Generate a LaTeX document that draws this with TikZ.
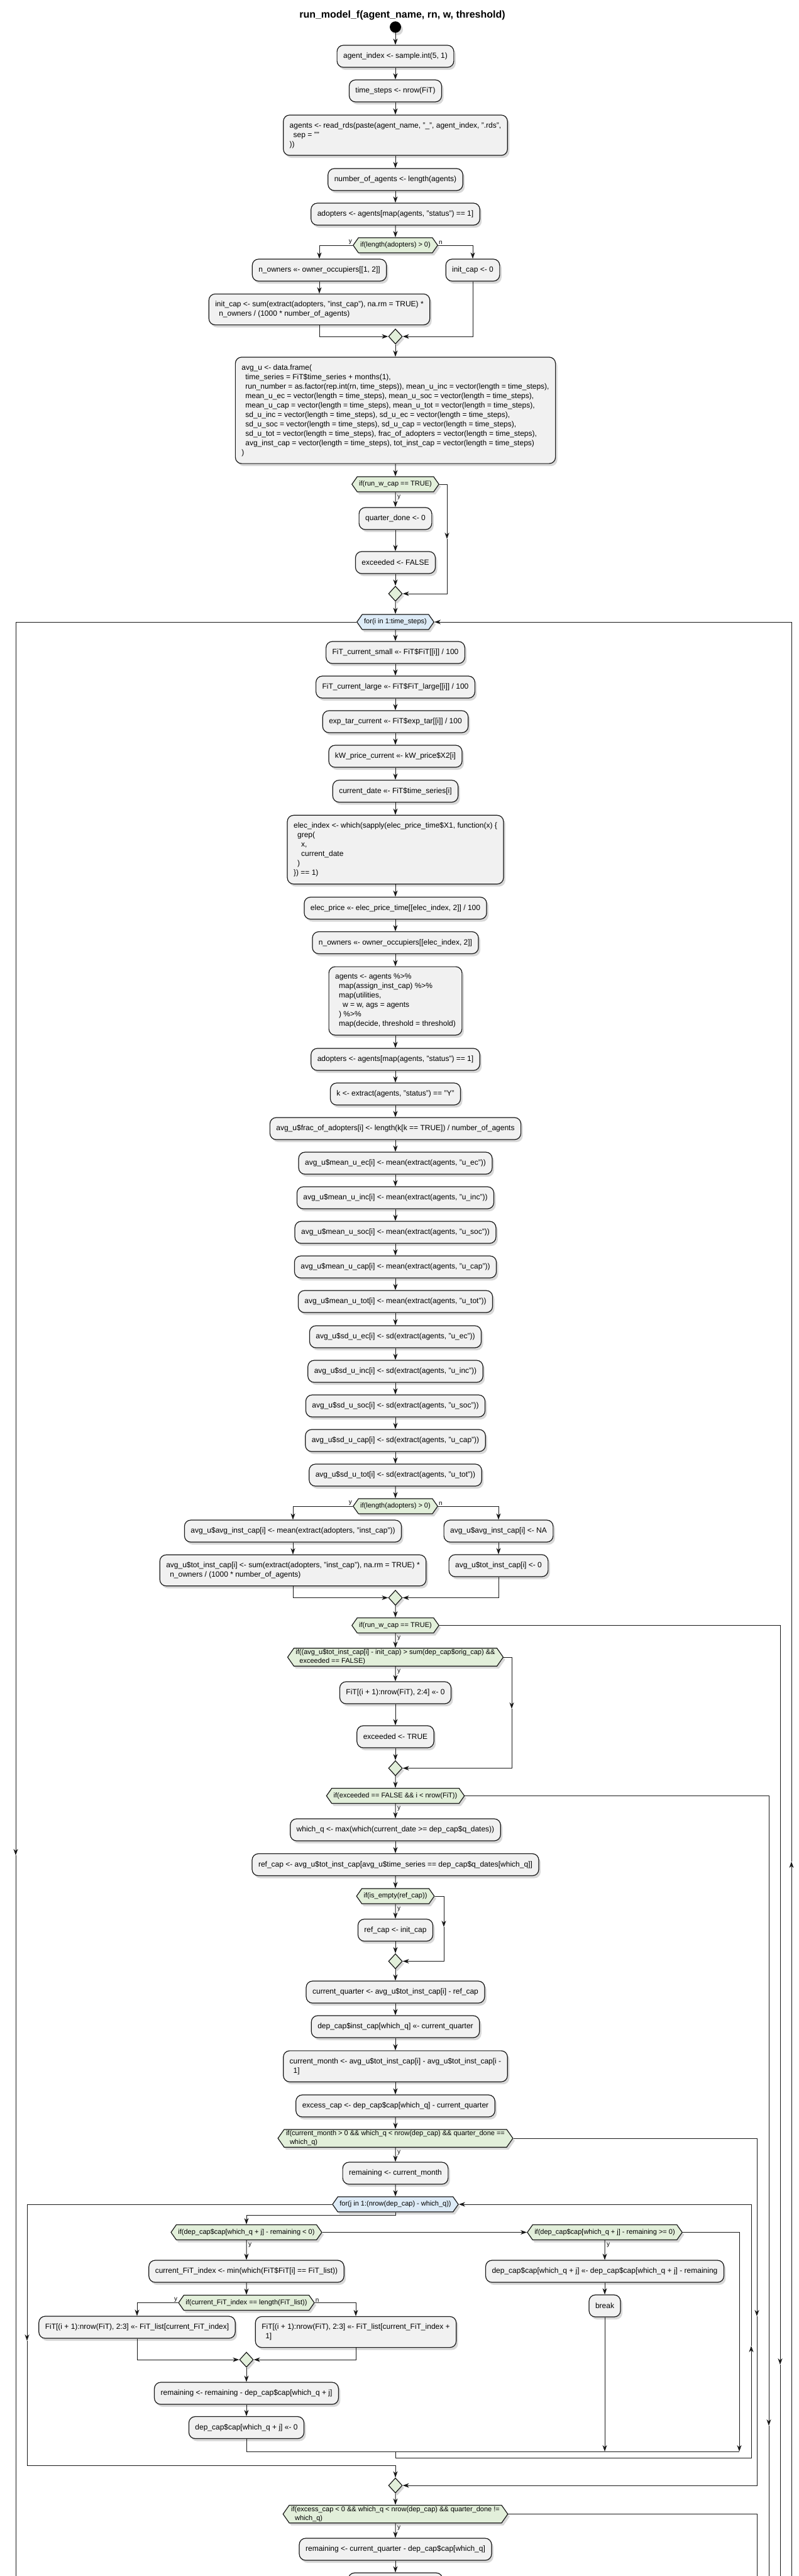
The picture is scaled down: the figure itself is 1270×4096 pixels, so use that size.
\documentclass[tikz,border=0pt]{standalone}
\usepackage{fontspec}
\setmainfont{Liberation Sans}
\usepackage{tikz}
\usetikzlibrary{positioning, shapes.geometric, shapes.symbols, arrows.meta, shadows}
\definecolor{actfill}{HTML}{F1F1F1}
\definecolor{actline}{HTML}{181818}
\definecolor{iffill}{HTML}{E2EFDA}
\definecolor{forfill}{HTML}{DDEBF7}

\begin{document}
\begin{tikzpicture}[
  x=1pt, y=-1pt,
  font=\fontsize{12}{15}\selectfont,
  shade/.style={drop shadow={shadow xshift=3pt, shadow yshift=-4pt, opacity=0.3}},
  act/.style={draw=actline, line width=1.2pt, fill=actfill, rounded corners=10pt,
    align=left, inner xsep=10pt, inner ysep=11.5pt, minimum height=35pt, shade},
  ifhex/.style={signal, signal to=east and west, signal pointer angle=110,
    draw=actline, line width=1.2pt, fill=iffill, align=left,
    font=\fontsize{11}{14}\selectfont, inner xsep=3pt, inner ysep=2pt,
    minimum height=24pt, shade},
  forhex/.style={ifhex, fill=forfill},
  mrg/.style={diamond, draw=actline, line width=1.2pt, fill=iffill,
    minimum width=22pt, minimum height=24pt, inner sep=0pt, shade},
  flow/.style={-{Stealth[length=10pt, width=7pt, inset=3pt]}, line width=1pt, color=actline},
  wire/.style={line width=1pt, color=actline},
  lbl/.style={font=\fontsize{10}{12}\selectfont, inner sep=1pt}]
\useasboundingbox (0,0) rectangle (1270,4096);
\clip (0,0) rectangle (1270,4096);
\fill[white] (0,0) rectangle (1270,4096);

\node[font=\fontsize{16}{20}\selectfont\bfseries] (title) at (640,24) {run\_model\_f(agent\_name, rn, w, threshold)};
\node[circle, fill=black, minimum size=18pt, inner sep=0pt, shade] (start) at (629,43) {};

% set-up before the time loop
\node[act] (idx) at (629,89.5) {agent\_index <- sample.int(5, 1)};
\node[act] (steps) at (629,144.5) {time\_steps <- nrow(FiT)};
\node[act] (readag) at (629,215) {agents <- read\_rds(paste(agent\_name, "\_", agent\_index, ".rds",\\\hspace*{6pt}sep = ""\\))};
\node[act] (nagents) at (629,285.5) {number\_of\_agents <- length(agents)};
\node[act] (adopt) at (629,340.5) {adopters <- agents[map(agents, "status") == 1]};
\node[ifhex] (iflen) at (629,390) {if(length(adopters) > 0)};
\node[act] (nown) at (508,429.5) {n\_owners <<- owner\_occupiers[[1, 2]]};
\node[act] (capzero) at (752,429.5) {init\_cap <- 0};
\node[act] (capsum) at (508,492) {init\_cap <- sum(extract(adopters, "inst\_cap"), na.rm = TRUE) *\\\hspace*{6pt}n\_owners / (1000 * number\_of\_agents)};
\node[mrg] (mlen) at (629,535) {};
\node[act] (avgu) at (629,652.5) {avg\_u <- data.frame(\\
\hspace*{6pt}time\_series = FiT\$time\_series + months(1),\\
\hspace*{6pt}run\_number = as.factor(rep.int(rn, time\_steps)), mean\_u\_inc = vector(length = time\_steps),\\
\hspace*{6pt}mean\_u\_ec = vector(length = time\_steps), mean\_u\_soc = vector(length = time\_steps),\\
\hspace*{6pt}mean\_u\_cap = vector(length = time\_steps), mean\_u\_tot = vector(length = time\_steps),\\
\hspace*{6pt}sd\_u\_inc = vector(length = time\_steps), sd\_u\_ec = vector(length = time\_steps),\\
\hspace*{6pt}sd\_u\_soc = vector(length = time\_steps), sd\_u\_cap = vector(length = time\_steps),\\
\hspace*{6pt}sd\_u\_tot = vector(length = time\_steps), frac\_of\_adopters = vector(length = time\_steps),\\
\hspace*{6pt}avg\_inst\_cap = vector(length = time\_steps), tot\_inst\_cap = vector(length = time\_steps)\\
)};
\node[ifhex] (ifcap) at (629,770) {if(run\_w\_cap == TRUE)};
\node[act] (qdone) at (629,824.5) {quarter\_done <- 0};
\node[act] (exfalse) at (629,894.5) {exceeded <- FALSE};
\node[mrg] (mcap) at (629,944) {};

% time loop
\node[forhex] (fori) at (629,989) {for(i in 1:time\_steps)};
\node[act] (fitsmall) at (629,1037.5) {FiT\_current\_small <<- FiT\$FiT[[i]] / 100};
\node[act] (fitlarge) at (629,1092.5) {FiT\_current\_large <<- FiT\$FiT\_large[[i]] / 100};
\node[act] (exptar) at (629,1147.5) {exp\_tar\_current <<- FiT\$exp\_tar[[i]] / 100};
\node[act] (kwprice) at (629,1202.5) {kW\_price\_current <<- kW\_price\$X2[i]};
\node[act] (curdate) at (629,1258) {current\_date <<- FiT\$time\_series[i]};
\node[act] (elecidx) at (629,1351) {elec\_index <- which(sapply(elec\_price\_time\$X1, function(x) \{\\\hspace*{6pt}grep(\\\hspace*{12pt}x,\\\hspace*{12pt}current\_date\\\hspace*{6pt})\\\}) == 1)};
\node[act] (elecpr) at (629,1444) {elec\_price <<- elec\_price\_time[[elec\_index, 2]] / 100};
\node[act] (nownel) at (629,1499) {n\_owners <<- owner\_occupiers[[elec\_index, 2]]};
\node[act] (agmap) at (629,1591.5) {agents <- agents \%>\%\\\hspace*{6pt}map(assign\_inst\_cap) \%>\%\\\hspace*{6pt}map(utilities,\\\hspace*{12pt}w = w, ags = agents\\\hspace*{6pt}) \%>\%\\\hspace*{6pt}map(decide, threshold = threshold)};
\node[act] (adopt2) at (629,1684.5) {adopters <- agents[map(agents, "status") == 1]};
\node[act] (kstat) at (629,1739.5) {k <- extract(agents, "status") == "Y"};
\node[act] (frac) at (629,1794.5) {avg\_u\$frac\_of\_adopters[i] <- length(k[k == TRUE]) / number\_of\_agents};
\foreach \uu [count=\k from 0] in {ec,inc,soc,cap,tot}
 {
  \node[act] (mu\uu) at (629,1849.5+55*\k) {avg\_u\$mean\_u\_\uu[i] <- mean(extract(agents, "u\_\uu"))};
  \node[act] (sd\uu) at (629,2125.5+55*\k) {avg\_u\$sd\_u\_\uu[i] <- sd(extract(agents, "u\_\uu"))};
 }
\node[ifhex] (iflen2) at (629,2395) {if(length(adopters) > 0)};
\node[act] (avgmean) at (466,2434.5) {avg\_u\$avg\_inst\_cap[i] <- mean(extract(adopters, "inst\_cap"))};
\node[act] (avgna) at (793,2434.5) {avg\_u\$avg\_inst\_cap[i] <- NA};
\node[act] (totsum) at (466,2497) {avg\_u\$tot\_inst\_cap[i] <- sum(extract(adopters, "inst\_cap"), na.rm = TRUE) *\\\hspace*{6pt}n\_owners / (1000 * number\_of\_agents)};
\node[act] (totzero) at (793,2489.5) {avg\_u\$tot\_inst\_cap[i] <- 0};
\node[mrg] (mlen2) at (629,2540.5) {};
\node[ifhex] (ifcap2) at (629,2584.5) {if(run\_w\_cap == TRUE)};
\node[ifhex] (ifexc) at (629,2635) {if((avg\_u\$tot\_inst\_cap[i] - init\_cap) > sum(dep\_cap\$orig\_cap) \&\&\\\hspace*{6pt}exceeded == FALSE)};
\node[act] (fitzero) at (629,2691.5) {FiT[(i + 1):nrow(FiT), 2:4] <<- 0};
\node[act] (extrue) at (629,2761.5) {exceeded <- TRUE};
\node[mrg] (mexc) at (629,2811.5) {};
\node[ifhex] (ifnrow) at (629,2855.5) {if(exceeded == FALSE \&\& i < nrow(FiT))};
\node[act] (whichq) at (629,2909.5) {which\_q <- max(which(current\_date >= dep\_cap\$q\_dates))};
\node[act] (refcap) at (629,2965) {ref\_cap <- avg\_u\$tot\_inst\_cap[avg\_u\$time\_series == dep\_cap\$q\_dates[which\_q]]};
\node[ifhex] (ifempty) at (629,3015) {if(is\_empty(ref\_cap))};
\node[act] (refinit) at (629,3069) {ref\_cap <- init\_cap};
\node[mrg] (mempty) at (629,3118.5) {};
\node[act] (curq) at (629,3167.5) {current\_quarter <- avg\_u\$tot\_inst\_cap[i] - ref\_cap};
\node[act] (depinst) at (629,3222.5) {dep\_cap\$inst\_cap[which\_q] <<- current\_quarter};
\node[act] (curm) at (629,3285.5) {current\_month <- avg\_u\$tot\_inst\_cap[i] - avg\_u\$tot\_inst\_cap[i -\\\hspace*{6pt}1]};
\node[act] (excess) at (629,3348.5) {excess\_cap <- dep\_cap\$cap[which\_q] - current\_quarter};
\node[ifhex] (ifmonth) at (629,3400) {if(current\_month > 0 \&\& which\_q < nrow(dep\_cap) \&\& quarter\_done ==\\\hspace*{6pt}which\_q)};
\node[act] (remm) at (629,3455.5) {remaining <- current\_month};

% quarter loop
\node[forhex] (forj) at (629,3505) {for(j in 1:(nrow(dep\_cap) - which\_q))};
\node[ifhex] (ifneg) at (392,3549.5) {if(dep\_cap\$cap[which\_q + j] - remaining < 0)};
\node[ifhex] (ifpos) at (962,3549.5) {if(dep\_cap\$cap[which\_q + j] - remaining >= 0)};
\node[act] (fitidx) at (392,3611.5) {current\_FiT\_index <- min(which(FiT\$FiT[i] == FiT\_list))};
\node[ifhex] (iflast) at (392,3661.5) {if(current\_FiT\_index == length(FiT\_list))};
\node[act] (fitcur) at (218,3700.5) {FiT[(i + 1):nrow(FiT), 2:3] <<- FiT\_list[current\_FiT\_index]};
\node[act] (fitnext) at (566,3708) {FiT[(i + 1):nrow(FiT), 2:3] <<- FiT\_list[current\_FiT\_index +\\\hspace*{6pt}1]};
\node[mrg] (mlast) at (392,3752) {};
\node[act] (remsub) at (392,3805.5) {remaining <- remaining - dep\_cap\$cap[which\_q + j]};
\node[act] (capzero2) at (392,3860) {dep\_cap\$cap[which\_q + j] <<- 0};
\node[act] (capsub) at (962,3611.5) {dep\_cap\$cap[which\_q + j] <<- dep\_cap\$cap[which\_q + j] - remaining};
\node[act] (brk) at (962,3666.5) {break};
\node[mrg] (mmonth) at (629,3952) {};
\node[ifhex] (ifexcess) at (629,3997.5) {if(excess\_cap < 0 \&\& which\_q < nrow(dep\_cap) \&\& quarter\_done !=\\\hspace*{6pt}which\_q)};
\node[act] (remq) at (629,4053.5) {remaining <- current\_quarter - dep\_cap\$cap[which\_q]};
\node[act, minimum width=150pt] (nextact) at (629,4108.5) {};

% branch labels
\foreach \h in {iflen, iflen2, iflast}
 {
  \node[lbl, anchor=south east] (\h-y) at (\h.west) {y};
  \node[lbl, anchor=south west] (\h-n) at (\h.east) {n};
 }
\foreach \h in {ifcap, ifcap2, ifexc, ifnrow, ifempty, ifmonth, ifneg, ifpos, ifexcess}
  \node[lbl, anchor=north west] (\h-y) at ([xshift=2pt, yshift=-3pt]\h.south) {y};

% straight flow
\draw[flow] (start) -- (idx);
\foreach \a/\b in {idx/steps, steps/readag, readag/nagents, nagents/adopt, adopt/iflen,
  nown/capsum, mlen/avgu, avgu/ifcap, ifcap/qdone, qdone/exfalse, exfalse/mcap, mcap/fori,
  fori/fitsmall, fitsmall/fitlarge, fitlarge/exptar, exptar/kwprice, kwprice/curdate,
  curdate/elecidx, elecidx/elecpr, elecpr/nownel, nownel/agmap, agmap/adopt2, adopt2/kstat,
  kstat/frac, frac/muec, muec/muinc, muinc/musoc, musoc/mucap, mucap/mutot, mutot/sdec,
  sdec/sdinc, sdinc/sdsoc, sdsoc/sdcap, sdcap/sdtot, sdtot/iflen2,
  avgmean/totsum, avgna/totzero, mlen2/ifcap2, ifcap2/ifexc, ifexc/fitzero, fitzero/extrue,
  extrue/mexc, mexc/ifnrow, ifnrow/whichq, whichq/refcap, refcap/ifempty, ifempty/refinit,
  refinit/mempty, mempty/curq, curq/depinst, depinst/curm, curm/excess, excess/ifmonth,
  ifmonth/remm, remm/forj, ifneg/fitidx, fitidx/iflast, mlast/remsub, remsub/capzero2,
  ifpos/capsub, capsub/brk, mmonth/ifexcess, ifexcess/remq, remq/nextact}
  \draw[flow] (\a) -- (\b);

% if / else branches
\draw[flow] (iflen.west) -| (nown.north);
\draw[flow] (iflen.east) -| (capzero.north);
\draw[flow] (capsum.south) |- (mlen.west);
\draw[flow] (capzero.south) |- (mlen.east);
\draw[flow] (iflen2.west) -| (avgmean.north);
\draw[flow] (iflen2.east) -| (avgna.north);
\draw[flow] (totsum.south) |- (mlen2.west);
\draw[flow] (totzero.south) |- (mlen2.east);
\draw[flow] (iflast.west) -| (fitcur.north);
\draw[flow] (iflast.east) -| (fitnext.north);
\draw[flow] (fitcur.south) |- (mlast.west);
\draw[flow] (fitnext.south) |- (mlast.east);
\draw[flow] (ifneg.east) -- (ifpos.west);

% bypasses
\coordinate (capbyp) at (711,857);
\draw[flow] (ifcap.east) -| (capbyp);
\draw[flow] (capbyp) |- (mcap.east);
\coordinate (excbyp) at (814,2717);
\draw[flow] (ifexc.east) -| (excbyp);
\draw[flow] (excbyp) |- (mexc.east);
\coordinate (emptybyp) at (706,3064);
\draw[flow] (ifempty.east) -| (emptybyp);
\draw[flow] (emptybyp) |- (mempty.east);
\coordinate (monthbyp) at (1204,3683);
\draw[flow] (ifmonth.east) -| (monthbyp);
\draw[flow] (monthbyp) |- (mmonth.east);
\coordinate (cap2byp) at (1241,3760);
\coordinate (cap2end) at (1241,4110);
\draw[flow] (ifcap2.east) -| (cap2byp);
\draw[wire] (cap2byp) -- (cap2end);
\coordinate (nrowbyp) at (1223,3857);
\coordinate (nrowend) at (1223,4110);
\draw[flow] (ifnrow.east) -| (nrowbyp);
\draw[wire] (nrowbyp) -- (nrowend);
\coordinate (excessend) at (1204,4110);
\draw[wire] (ifexcess.east) -| (excessend);

% outer loop edges
\coordinate (iexit) at (25,2950);
\coordinate (iexitend) at (25,4110);
\draw[flow] (fori.west) -| (iexit);
\draw[wire] (iexit) -- (iexitend);
\coordinate (iback) at (1259,4110);
\coordinate (ibackmid) at (1259,2960);
\draw[flow] (iback) -- (ibackmid);
\draw[flow] (ibackmid) |- (fori.east);

% inner loop edges
\coordinate (jsplit) at (392,3522);
\draw[flow] (forj.south) |- (jsplit) -- (ifneg.north);
\coordinate (joinl) at (392,3898);
\coordinate (joinr) at (1176,3898);
\coordinate (joinm) at (629,3898);
\coordinate (brkjoin) at (962,3898);
\draw[wire] (capzero2.south) -- (joinl) -- (joinr);
\draw[flow] (brk.south) -- (brkjoin);
\draw[flow] (ifpos.east) -| (joinr);
\coordinate (jback) at (629,3908);
\coordinate (jbackmid) at (1195,3730);
\draw[flow] (joinm) -- (jback) -| (jbackmid);
\draw[flow] (jbackmid) |- (forj.east);
\coordinate (jexit) at (43,3722);
\coordinate (jexitbar) at (629,3920);
\draw[flow] (forj.west) -| (jexit);
\draw[flow] (jexit) |- (jexitbar) -- (mmonth.north);
\end{tikzpicture}
\end{document}
